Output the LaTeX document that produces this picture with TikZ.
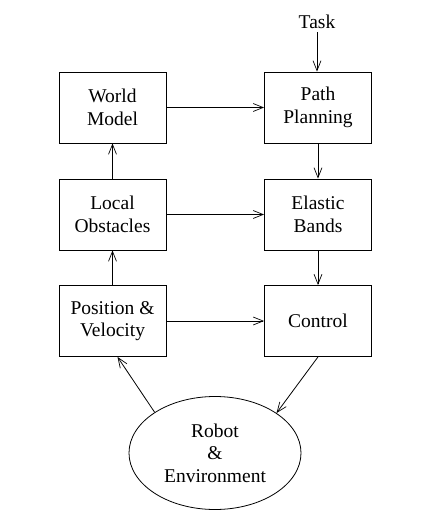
\documentclass[tikz,border=0pt]{standalone}
\usepackage{fontspec}
\setmainfont{Liberation Serif}
\usetikzlibrary{arrows.meta,shapes.geometric}

\begin{document}
\begin{tikzpicture}[x=1pt,y=-1pt,
		box/.style={draw, line width=0.8pt, minimum width=107pt, minimum height=71pt,
			align=center, inner sep=0pt},
		link/.style={draw, line width=0.8pt, -{Straight Barb[length=10pt,width=8pt,line width=0.7pt]}},
		font=\fontsize{19.5}{22.5}\selectfont]
		\def\xl{112.5}
		\def\xr{318}
		\useasboundingbox (0,0) rectangle (425,530);
		% the two columns of blocks
		\node[box] (wm)  at (\xl,107.5) {World\\Model};
		\node[box] (lo)  at (\xl,214.5) {Local\\Obstacles};
		\node[box] (pv)  at (\xl,321)   {Position \&\\Velocity};
		\node[box] (pp)  at (\xr,107.5) {Path\\Planning};
		\node[box] (eb)  at (\xr,214.5) {Elastic\\Bands};
		\node[box] (ctl) at (\xr,321)   {Control};
		% input and the world
		\node (task) at (317,22) {Task};
		\node[draw, ellipse, line width=0.8pt, minimum width=172pt, minimum height=113pt,
			align=center, inner sep=0pt] (env) at (215,453) {Robot\\\&\\Environment};
		% arrows
		\draw[link] (task) -- (task |- pp.north);
		\draw[link] (pp) -- (eb);
		\draw[link] (eb) -- (ctl);
		\draw[link] (wm) -- (pp);
		\draw[link] (lo) -- (eb);
		\draw[link] (pv) -- (ctl);
		\draw[link] (pv) -- (lo);
		\draw[link] (lo) -- (wm);
		\draw[link] (ctl.south) -- (env.33);
		\draw[link] (env.146.7) -- ([xshift=5pt]pv.south);
	\end{tikzpicture}
\end{document}
